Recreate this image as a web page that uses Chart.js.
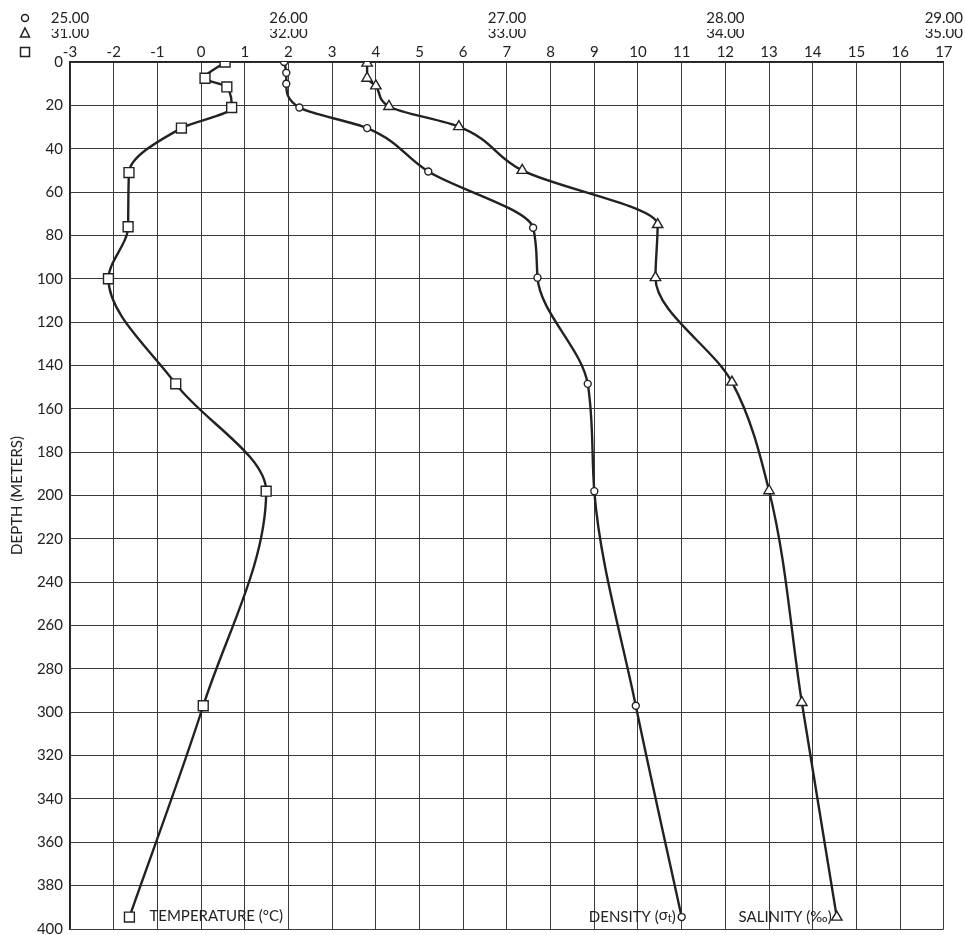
<!DOCTYPE html>
<html><head><meta charset="utf-8">
<script src="https://cdn.jsdelivr.net/npm/chart.js@4.4.1/dist/chart.umd.min.js"></script>
<style>html,body{margin:0;padding:0;background:#fff;overflow:hidden}#wrap{width:965px;height:935px}canvas{display:block}</style>
</head><body><div id="wrap"><canvas id="c" width="965" height="935"></canvas></div>
<script>
// ---- data ----
const depthTickStep = 20;           // depth axis: 0..400 m
const tempTickStep = 1;             // temperature axis: -3..17 °C
const densityTickLabels = [25, 26, 27, 28, 29];
const salinityTickLabels = [31, 32, 33, 34, 35];

const tempDepth   = [0, 7.5, 11.5, 21, 30.5, 51, 76, 100, 148.5, 198, 297, 394.5];
const tempValues  = [0.55, 0.09, 0.59, 0.70, -0.45, -1.65, -1.67, -2.12, -0.58, 1.49, 0.05, -1.64];

const densDepth   = [0, 5, 10, 21, 30.5, 50.5, 76.5, 99.5, 148.5, 198, 297, 394.5];
const densValues  = [25.98, 25.99, 25.99, 26.05, 26.36, 26.64, 27.12, 27.14, 27.37, 27.40, 27.59, 27.80];

const salDepth    = [0.5, 7.5, 11, 20.5, 29.8, 50, 75, 99.5, 147.7, 197.8, 295.5, 394.5];
const salValues   = [32.36, 32.36, 32.40, 32.46, 32.78, 33.07, 33.69, 33.68, 34.03, 34.20, 34.35, 34.51];

const FONT = 'Lato, "Liberation Sans", sans-serif';
const INK = '#222';
const GRID = '#3a3a3a';

function pts(xs, ys){ return xs.map((v,i)=>({x:v, y:ys[i]})); }

const markerPlugin = {
  id: 'extras',
  afterDraw(chart){
    const ctx = chart.ctx;
    const y = chart.scales.y, xT = chart.scales.xT, xD = chart.scales.xD, xS = chart.scales.xS;
    ctx.save();
    ctx.strokeStyle = INK; ctx.fillStyle = '#fff'; ctx.lineWidth = 1.5;
    const rowY = s => s.bottom - s.options.ticks.padding - 9;
    const mx = chart.chartArea.left - 45;
    // circle (density)
    let cy = rowY(xD);
    ctx.beginPath(); ctx.arc(mx, cy, 3.5, 0, Math.PI*2); ctx.fill(); ctx.stroke();
    // triangle (salinity)
    cy = rowY(xS);
    ctx.beginPath(); ctx.moveTo(mx, cy-5); ctx.lineTo(mx+4.5, cy+4); ctx.lineTo(mx-4.5, cy+4); ctx.closePath(); ctx.fill(); ctx.stroke();
    // square (temperature)
    cy = rowY(xT);
    ctx.beginPath(); ctx.rect(mx-4.5, cy-4.5, 9, 9); ctx.fill(); ctx.stroke();

    // bottom annotations
    const F = 15, FS = 11;
    ctx.fillStyle = INK;
    ctx.font = F + 'px ' + FONT;
    ctx.textBaseline = 'middle';
    const lt = tempValues.length-1;
    ctx.textAlign = 'left';
    ctx.fillText('TEMPERATURE (°C)', xT.getPixelForValue(tempValues[lt]) + 20, y.getPixelForValue(tempDepth[lt]) - 1);

    const ld = densValues.length-1;
    const dx = xD.getPixelForValue(densValues[ld]) - 6;
    const dy = y.getPixelForValue(densDepth[ld]);
    const p1 = 'DENSITY (', p2 = 'σ', p3 = 't', p4 = ')';
    const w1 = ctx.measureText(p1).width, w2 = ctx.measureText(p2).width, w4 = ctx.measureText(p4).width;
    ctx.font = FS + 'px ' + FONT;
    const w3 = ctx.measureText(p3).width;
    const total = w1 + w2 + w3 + w4;
    let xx = dx - total;
    ctx.font = F + 'px ' + FONT;
    ctx.fillText(p1, xx, dy); xx += w1;
    ctx.fillText(p2, xx, dy - 2); xx += w2;
    ctx.font = FS + 'px ' + FONT;
    ctx.fillText(p3, xx, dy + 1); xx += w3;
    ctx.font = F + 'px ' + FONT;
    ctx.fillText(p4, xx, dy);

    const ls = salValues.length-1;
    ctx.textAlign = 'right';
    ctx.fillText('SALINITY (‰)', xS.getPixelForValue(salValues[ls]) - 5, y.getPixelForValue(salDepth[ls]));
    ctx.restore();
  }
};

const lineStyle = {
  borderColor: INK, borderWidth: 2.4, fill: false,
  pointBackgroundColor: '#fff', pointBorderColor: INK, pointBorderWidth: 1.4,
  cubicInterpolationMode: 'monotone'
};

new Chart(document.getElementById('c'), {
  type: 'line',
  data: {
    datasets: [
      Object.assign({label:'Temperature (°C)', data: pts(tempValues, tempDepth), xAxisID:'xT', yAxisID:'y', pointStyle:'rect', pointRadius:7}, lineStyle),
      Object.assign({label:'Density (σt)', data: pts(densValues, densDepth), xAxisID:'xD', yAxisID:'y', pointStyle:'circle', pointRadius:3.5}, lineStyle),
      Object.assign({label:'Salinity (‰)', data: pts(salValues, salDepth), xAxisID:'xS', yAxisID:'y', pointStyle:'triangle', pointRadius:6}, lineStyle)
    ]
  },
  options: {
    responsive: false, animation: false, indexAxis: 'y',
    layout: { autoPadding: false, padding: { top: 9, right: 21, bottom: 6, left: 0 } },
    plugins: { legend: {display:false}, tooltip: {enabled:false} },
    scales: {
      y: {
        type: 'linear', position: 'left', reverse: true, min: 0, max: 400,
        ticks: { stepSize: depthTickStep, padding: 7, color: INK, font: {family: FONT, size: 15, lineHeight: 1} },
        grid: { color: GRID, lineWidth: 1, drawTicks: false },
        border: { color: INK, width: 1.5 },
        title: { display: true, text: 'DEPTH (METERS)', color: INK, font: {family: FONT, size: 15}, padding: {top: 8, bottom: 0} },
        afterFit(s){ s.width = 70; s.paddingTop = 0; s.paddingBottom = 0; }
      },
      xT: {
        type: 'linear', position: 'top', min: -3, max: 17, weight: 0,
        ticks: { stepSize: tempTickStep, padding: 1, color: INK, maxRotation: 0, autoSkip: false, font: {family: FONT, size: 15} },
        grid: { color: GRID, lineWidth: 1, drawTicks: false },
        border: { color: INK, width: 1.5 },
        afterFit(s){ s.height = 18; }
      },
      xS: {
        type: 'linear', position: 'top', min: salinityTickLabels[0], max: salinityTickLabels[salinityTickLabels.length-1], weight: 1,
        afterBuildTicks(s){ s.ticks = salinityTickLabels.map(v=>({value:v})); },
        ticks: { padding: 2, color: INK, maxRotation: 0, autoSkip: false, font: {family: FONT, size: 15}, callback: v => v.toFixed(2) },
        grid: { display: false, drawTicks: false }, border: { display: false },
        afterFit(s){ s.height = 15; }
      },
      xD: {
        type: 'linear', position: 'top', min: densityTickLabels[0], max: densityTickLabels[densityTickLabels.length-1], weight: 2,
        afterBuildTicks(s){ s.ticks = densityTickLabels.map(v=>({value:v})); },
        ticks: { padding: 2, color: INK, maxRotation: 0, autoSkip: false, font: {family: FONT, size: 15}, callback: v => v.toFixed(2) },
        grid: { display: false, drawTicks: false }, border: { display: false },
        afterFit(s){ s.height = 20; }
      }
    }
  },
  plugins: [markerPlugin]
});
</script>
</body></html>
